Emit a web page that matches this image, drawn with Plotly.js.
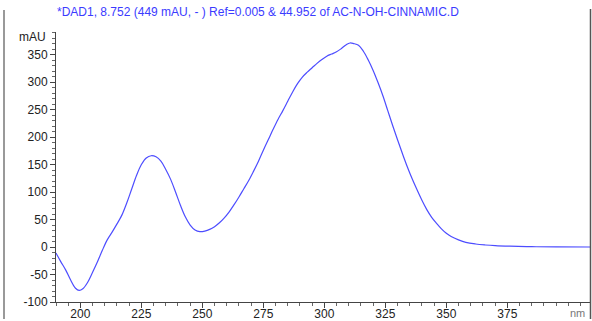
<!DOCTYPE html>
<html>
<head>
<meta charset="utf-8">
<script src="https://cdn.plot.ly/plotly-3.0.1.min.js"></script>
<style>
html,body{margin:0;padding:0;background:#fff;}
#chart{width:592px;height:321px;}
</style>
</head>
<body>
<div id="chart"></div>
<script>
// Wavelength (nm)
const wavelength = [190,192,194,196,198,199.5,201,203,205,207,209,211,213,215,217,219,221,223,225,227,229,231,233,235,237,239,241,243,245,247,249,251,253,255,257,259,261,263,265,267,269,271,273,275,277,279,281,283,285,287,289,291,293,295,297,299,301,303,305,307,309,310.5,312,314,316,318,320,322,324,326,328,330,332,334,336,338,340,342,344,346,348,350,352,355,358,362,366,370,376,385,395,409];
// Absorbance (mAU)
const absorbance = [-11,-27,-42,-60,-75,-79,-76,-64,-46,-27,-6,13,27,42,58,80,105,130,150,162,166,164,156,141,123,100,76,55,40,31,28,29,32,37,44,53,64,77,91,106,121,138,156,176,195,214,232,248,265,282,297,309,318,326,334,341,347,351,355,361,368,371,370,367,356,340,321,299,275,248,221,195,170,146,124,104,85,68,54,43,33,25,19,13,8.5,5.5,3.7,2.5,1.5,0.6,0.2,0];
// Axis tick labels
const yTicks = [-100,-50,0,50,100,150,200,250,300,350];
const xTicks = [200,225,250,275,300,325,350,375];
const titleText = '*DAD1, 8.752 (449 mAU, - ) Ref=0.005 & 44.952 of AC-N-OH-CINNAMIC.D';

const font = 'Arial, "Liberation Sans", sans-serif';
const L = 56, R = 590, T = 32, B = 302, W = 592, H = 321;
const px = x => (x - L) / (R - L);

const trace = {
  x: wavelength, y: absorbance, type: 'scatter', mode: 'lines',
  line: {color: '#4d4dff', width: 1.2, shape: 'spline', smoothing: 1},
  hoverinfo: 'skip'
};

const layout = {
  width: W, height: H,
  margin: {l: L, r: W - R, t: T, b: H - B, pad: 0},
  paper_bgcolor: '#fff', plot_bgcolor: '#fff',
  showlegend: false,
  title: {text: titleText, font: {family: font, size: 12, color: '#3b3bff'},
          x: 57 / W, xanchor: 'left', y: 1 - 12 / H, yanchor: 'middle'},
  xaxis: {
    range: [190, 408.9], tickvals: xTicks, ticktext: xTicks.map(String),
    ticks: 'outside', ticklen: 5, tickwidth: 1, tickcolor: '#444',
    ticklabelstandoff: -4,
    minor: {dtick: 5, tick0: 0, ticks: 'outside', ticklen: 3, tickcolor: '#666', tickwidth: 1},
    showline: true, linecolor: '#444', linewidth: 1, showgrid: false, zeroline: false,
    tickfont: {family: font, size: 12, color: '#222'}
  },
  yaxis: {
    range: [-100, 391], tickvals: yTicks, ticktext: yTicks.map(String),
    ticks: 'outside', ticklen: 5, tickwidth: 1, tickcolor: '#444',
    minor: {dtick: 10, tick0: 0, ticks: 'outside', ticklen: 3, tickcolor: '#666', tickwidth: 1},
    showline: true, linecolor: '#444', linewidth: 1, showgrid: false, zeroline: false,
    tickfont: {family: font, size: 12, color: '#222'}
  },
  annotations: [
    {text: 'mAU', xref: 'paper', yref: 'paper', x: -8 / (R - L), y: 1 - (37 - T) / (B - T),
     xanchor: 'right', yanchor: 'middle', showarrow: false, font: {family: font, size: 12, color: '#222'}},
    {text: 'nm', xref: 'paper', yref: 'paper', x: (577 - L) / (R - L), y: -(313 - B) / (B - T),
     xanchor: 'center', yanchor: 'middle', showarrow: false, font: {family: font, size: 11, color: '#777'}}
  ],
  shapes: [
    {type: 'line', xref: 'paper', yref: 'paper', x0: px(4), x1: px(4), y0: 1 + (T - 10) / (B - T), y1: -(319 - B) / (B - T),
     line: {color: '#999', width: 2}},
    {type: 'line', xref: 'paper', yref: 'paper', x0: px(590.5), x1: px(590.5), y0: 1 + (T - 9) / (B - T), y1: -(319 - B) / (B - T),
     line: {color: '#555', width: 1.5}}
  ]
};

Plotly.newPlot('chart', [trace], layout, {displayModeBar: false, staticPlot: true});
</script>
</body>
</html>
